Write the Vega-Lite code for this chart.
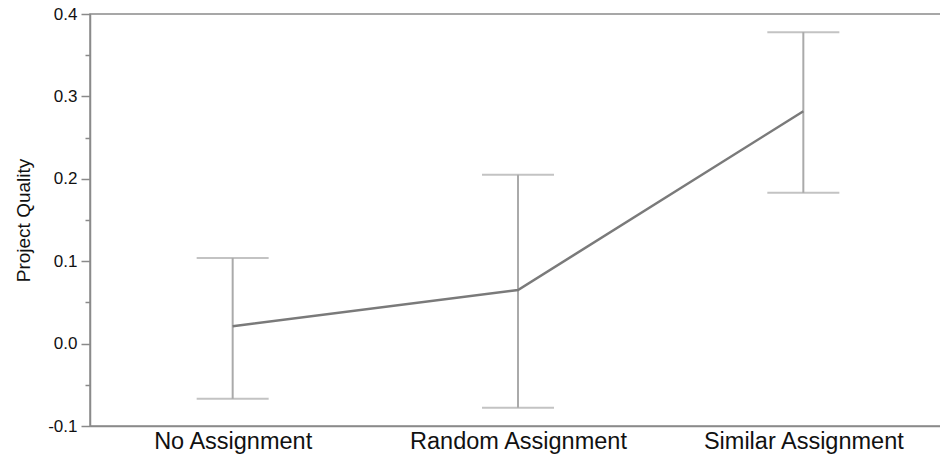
{
  "$schema": "https://vega.github.io/schema/vega-lite/v6.json",
  "autosize": "none",
  "width": 856,
  "height": 412,
  "padding": {"left": 90, "top": 14, "right": 0, "bottom": 31},
  "config": {
    "font": "Liberation Sans",
    "view": {"stroke": "#8a8a8a", "strokeWidth": 1.5},
    "axis": {"domainColor": "#8a8a8a", "tickColor": "#8a8a8a", "domainWidth": 1.5, "tickWidth": 1.5, "labelColor": "#111", "titleColor": "#111", "grid": false, "labelLimit": 0}
  },
  "data": {"values": [
    {"group": "No Assignment", "mean": 0.021, "lo": -0.067, "hi": 0.104},
    {"group": "Random Assignment", "mean": 0.065, "lo": -0.078, "hi": 0.205},
    {"group": "Similar Assignment", "mean": 0.282, "lo": 0.183, "hi": 0.378}
  ]},
  "encoding": {
    "x": {"field": "group", "type": "nominal", "sort": null,
      "scale": {"type": "point", "padding": 0.5},
      "axis": {"title": null, "labelAngle": 0, "ticks": false, "labelFontSize": 23.5, "labelPadding": 3, "labelLimit": 0, "domain": true}}
  },
  "layer": [
    {
      "mark": {"type": "rule", "color": "#aaaaaa", "strokeWidth": 2},
      "encoding": {
        "y": {"field": "lo", "type": "quantitative", "scale": {"domain": [-0.1, 0.4], "nice": false, "zero": false},
          "axis": {"title": "Project Quality", "titleFontSize": 19, "titleFontWeight": "normal", "titlePadding": 14,
            "values": [-0.1, 0, 0.1, 0.2, 0.3, 0.4],
            "labelExpr": "datum.value < 0 ? '-' + format(-datum.value, '.1f') : format(datum.value, '.1f')",
            "labelFontSize": 17, "tickSize": 9, "labelPadding": 4}},
        "y2": {"field": "hi"}
      }
    },
    {
      "mark": {"type": "tick", "color": "#aaaaaa", "thickness": 2, "size": 72, "orient": "horizontal"},
      "encoding": {
        "y": {"field": "lo", "type": "quantitative", "scale": {"domain": [-0.1, 0.4], "nice": false, "zero": false},
          "axis": {"title": null, "orient": "left", "values": [-0.05, 0.05, 0.15, 0.25, 0.35], "labels": false, "domain": false, "tickSize": 5}}
      }
    },
    {
      "mark": {"type": "tick", "color": "#aaaaaa", "thickness": 2, "size": 72, "orient": "horizontal"},
      "encoding": {
        "y": {"field": "hi", "type": "quantitative", "scale": {"domain": [-0.1, 0.4], "nice": false, "zero": false}, "axis": null}
      }
    },
    {
      "mark": {"type": "line", "color": "#7a7a7a", "strokeWidth": 2.5},
      "encoding": {
        "y": {"field": "mean", "type": "quantitative", "scale": {"domain": [-0.1, 0.4], "nice": false, "zero": false}, "axis": null}
      }
    }
  ],
  "resolve": {"scale": {"y": "independent"}, "axis": {"y": "independent"}}
}
